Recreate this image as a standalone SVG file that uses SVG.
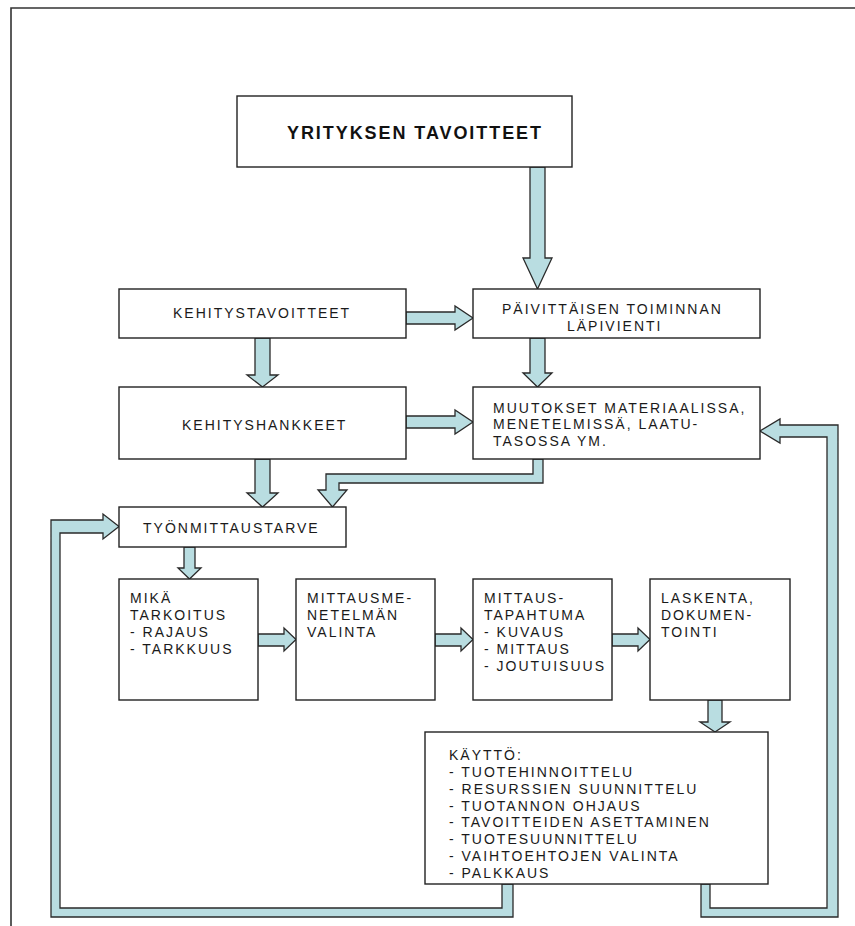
<svg xmlns="http://www.w3.org/2000/svg" width="855" height="926" viewBox="0 0 855 926">
<style>
  .box { fill: #ffffff; stroke: #222222; stroke-width: 1.4; }
  .conn { fill: #b9dde1; stroke: #2a2a2a; stroke-width: 1.3; stroke-linejoin: miter; }
  .t { font-family: "Liberation Sans", Arial, sans-serif; font-size: 14px; letter-spacing: 2px; fill: #1a1a1a; }
  .title { font-family: "Liberation Sans", Arial, sans-serif; font-size: 18px; font-weight: bold; fill: #111111; }
  .frame { fill: none; stroke: #333333; stroke-width: 1.6; }
</style>
<rect x="0" y="0" width="855" height="926" fill="#ffffff"/>
<path class="frame" d="M11,926 V8 H855"/>

<g id="connectors">
  <polygon class="conn" points="530,167 545,167 545,258 552,258 537.5,289 523,258 530,258"/>
  <polygon class="conn" points="406,312 455,312 455,306 473,318 455,330 455,324 406,324"/>
  <polygon class="conn" points="255,338 270,338 270,375 278,375 262.5,387 247,375 255,375"/>
  <polygon class="conn" points="530,338 545,338 545,373 552,373 537.5,387 523,373 530,373"/>
  <polygon class="conn" points="406,416 455,416 455,410 473,422 455,434 455,428 406,428"/>
  <polygon class="conn" points="533,459 543,459 543,483 339,483 339,490 347,490 332.5,507 318,490 326,490 326,474 533,474"/>
  <polygon class="conn" points="255,459 270,459 270,493 278,493 262.5,507 247,493 255,493"/>
  <polygon class="conn" points="502,884 513,884 513,917 51,917 51,520 103,520 103,514 119,526.5 103,539 103,533 60,533 60,908 502,908"/>
  <polygon class="conn" points="701,884 710,884 710,908 827,908 827,437 780,437 780,443 760,431 780,419 780,425 838,425 838,917 701,917"/>
  <polygon class="conn" points="184,547 195,547 195,568 201,568 189.5,579 178,568 184,568"/>
  <polygon class="conn" points="258,634 284,634 284,628 296,639.5 284,651 284,646 258,646"/>
  <polygon class="conn" points="435,634 461,634 461,628 473,639.5 461,651 461,646 435,646"/>
  <polygon class="conn" points="612,634 638,634 638,628 650,639.5 638,651 638,646 612,646"/>
  <polygon class="conn" points="708,700 722,700 722,722 730,722 715,732 700,722 708,722"/>
</g>

<g id="yrityksen-tavoitteet">
  <rect class="box" x="237" y="96" width="335" height="71"/>
  <text class="title" x="287" y="139" textLength="254" lengthAdjust="spacing">YRITYKSEN TAVOITTEET</text>
</g>

<g id="kehitystavoitteet">
  <rect class="box" x="119" y="289" width="287" height="49"/>
  <text class="t" x="173" y="318">KEHITYSTAVOITTEET</text>
</g>

<g id="paivittaisen">
  <rect class="box" x="473" y="289" width="287" height="49"/>
  <text class="t" x="502" y="314">PÄIVITTÄISEN TOIMINNAN</text>
  <text class="t" x="567" y="331">LÄPIVIENTI</text>
</g>

<g id="kehityshankkeet">
  <rect class="box" x="119" y="387" width="287" height="72"/>
  <text class="t" x="182" y="430">KEHITYSHANKKEET</text>
</g>

<g id="muutokset">
  <rect class="box" x="473" y="387" width="287" height="72"/>
  <text class="t" x="493" y="413">MUUTOKSET MATERIAALISSA,</text>
  <text class="t" x="493" y="429">MENETELMISSÄ, LAATU-</text>
  <text class="t" x="493" y="446">TASOSSA YM.</text>
</g>

<g id="tyonmittaustarve">
  <rect class="box" x="119" y="507" width="227" height="40"/>
  <text class="t" x="143" y="533">TYÖNMITTAUSTARVE</text>
</g>

<g id="mika-tarkoitus">
  <rect class="box" x="119" y="579" width="139" height="121"/>
  <text class="t" x="130" y="603">MIKÄ</text>
  <text class="t" x="130" y="620">TARKOITUS</text>
  <text class="t" x="130" y="637">- RAJAUS</text>
  <text class="t" x="130" y="654">- TARKKUUS</text>
</g>

<g id="mittausmenetelman-valinta">
  <rect class="box" x="296" y="579" width="139" height="121"/>
  <text class="t" x="307" y="603">MITTAUSME-</text>
  <text class="t" x="307" y="620">NETELMÄN</text>
  <text class="t" x="307" y="637">VALINTA</text>
</g>

<g id="mittaustapahtuma">
  <rect class="box" x="473" y="579" width="139" height="121"/>
  <text class="t" x="484" y="603">MITTAUS-</text>
  <text class="t" x="484" y="620">TAPAHTUMA</text>
  <text class="t" x="484" y="637">- KUVAUS</text>
  <text class="t" x="484" y="654">- MITTAUS</text>
  <text class="t" x="484" y="671">- JOUTUISUUS</text>
</g>

<g id="laskenta">
  <rect class="box" x="650" y="579" width="140" height="121"/>
  <text class="t" x="661" y="603">LASKENTA,</text>
  <text class="t" x="661" y="620">DOKUMEN-</text>
  <text class="t" x="661" y="637">TOINTI</text>
</g>

<g id="kaytto">
  <rect class="box" x="425" y="732" width="343" height="152"/>
  <text class="t" x="449" y="760">KÄYTTÖ:</text>
  <text class="t" x="449" y="777">- TUOTEHINNOITTELU</text>
  <text class="t" x="449" y="794">- RESURSSIEN SUUNNITTELU</text>
  <text class="t" x="449" y="811">- TUOTANNON OHJAUS</text>
  <text class="t" x="449" y="827">- TAVOITTEIDEN ASETTAMINEN</text>
  <text class="t" x="449" y="844">- TUOTESUUNNITTELU</text>
  <text class="t" x="449" y="861">- VAIHTOEHTOJEN VALINTA</text>
  <text class="t" x="449" y="878">- PALKKAUS</text>
</g>
</svg>
